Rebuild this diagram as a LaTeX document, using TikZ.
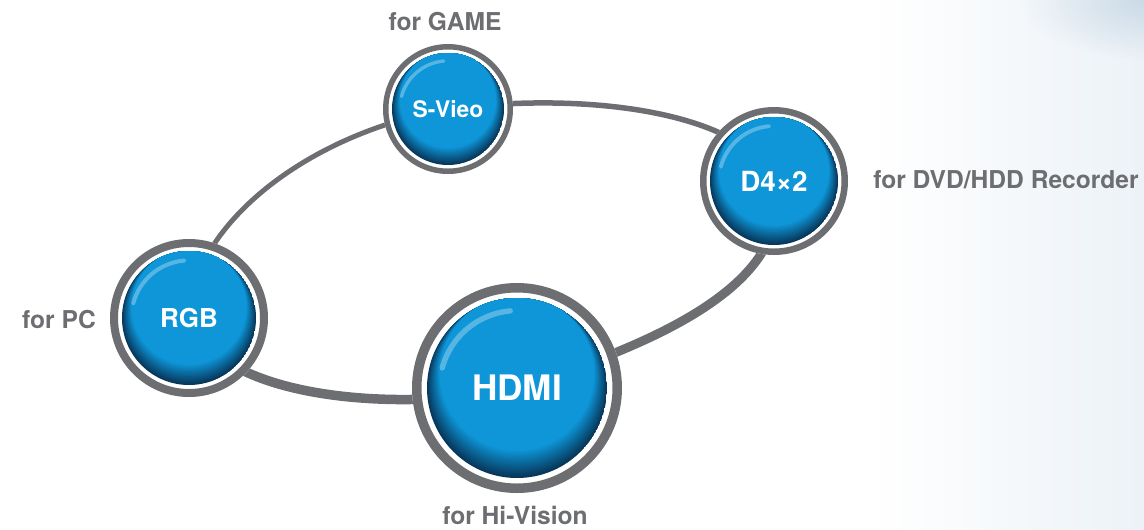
\documentclass[tikz,border=0pt]{standalone}
\usepackage{fontspec}
\setmainfont{TeX Gyre Heros}
\usetikzlibrary{fadings}

\definecolor{ringgray}{HTML}{6D6E71}
\definecolor{discblue}{HTML}{0E96D8}
\definecolor{discdark}{HTML}{07375A}
\definecolor{hazeblue}{HTML}{ECF2F7}
\definecolor{cloudblue}{HTML}{C6D7E5}

\tikzfading[name=cloudfade, inner color=transparent!10, outer color=transparent!100]

\begin{document}
\begin{tikzpicture}[x=0.02cm, y=-0.02cm,
    ring/.style={draw=ringgray},
    glint/.style={draw=white, opacity=0.3, line cap=round},
    porttext/.style={text=white, inner sep=0pt, font=\bfseries\fontsize{#1}{#1}\selectfont},
    forlabel/.style={text=ringgray, inner sep=0pt, font=\bfseries\fontsize{14}{16}\selectfont}]
    \useasboundingbox (0,0) rectangle (1144,529);

    % light haze on the right
    \shade[left color=white, right color=hazeblue] (870,0) rectangle (1144,529);
    \fill[cloudblue, path fading=cloudfade] (1150,0) ellipse (130 and 60);

    \coordinate (svideo) at (448,109);
    \coordinate (d4) at (774,181);
    \coordinate (rgb) at (189,318);
    \coordinate (hdmi) at (517,388);

    % the ring, thicker at the front
    \draw[ring, line width=0.11cm] (svideo) .. controls +(150,-19) and +(-26,-65) .. (d4);
    \draw[ring, line width=0.18cm] (d4) .. controls +(26,109) and +(116,-38) .. (hdmi);
    \draw[ring, line width=0.19cm] (hdmi) .. controls +(-107,24) and +(31,85) .. (rgb);
    \draw[ring, line width=0.1cm] (rgb) .. controls +(1,-88) and +(-147,26) .. (svideo);

    \foreach \p/\R/\w/\rd in {svideo/65/5.5/56, d4/74/6.5/64, rgb/79/8/67, hdmi/105/9.5/90} {
        \fill[white] (\p) circle[radius=\R];
        \draw[ringgray, line width=\w*0.02cm] (\p) circle[radius=\R-\w/2];
        % blue disc, darker towards the lower rim
        \begin{scope}
            \clip (\p) circle[radius=\rd];
            \foreach \k in {0,...,16} {
                \pgfmathtruncatemacro\mix{100*\k/16}
                \fill[discblue!\mix!discdark] (\p) ++(0,{-0.16*\rd*\k/16}) circle[radius={\rd*(1-0.14*\k/16)}];
            }
        \end{scope}
        \draw[glint, shift={(\p)}, y=0.02cm, line width=0.06*\rd*0.02cm]
            (95:{0.86*\rd}) arc[start angle=95, end angle=165, radius=0.86*\rd];
    }

    \node[porttext=13] (svideo-txt) at (svideo) {S-Vieo};
    \node[porttext=15.8] (d4-txt) at (d4) {D4×2};
    \node[porttext=14.8] (rgb-txt) at (rgb) {RGB};
    \node[porttext=20] (hdmi-txt) at (hdmi) {HDMI};

    \node[forlabel] (svideo-for) at (445,22) {for GAME};
    \node[forlabel, anchor=west] (d4-for) at (873,180) {for DVD/HDD Recorder};
    \node[forlabel] (rgb-for) at (59,320) {for PC};
    \node[forlabel] (hdmi-for) at (515,515) {for Hi-Vision};
\end{tikzpicture}
\end{document}
